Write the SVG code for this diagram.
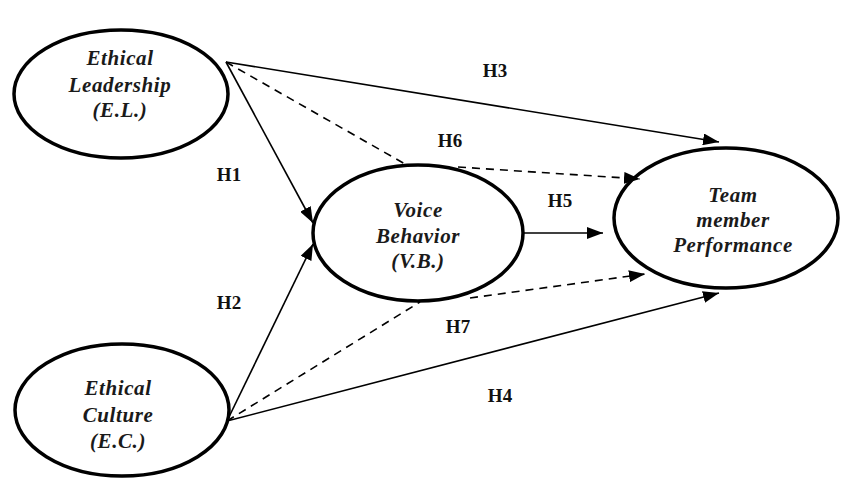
<svg xmlns="http://www.w3.org/2000/svg" width="842" height="479" viewBox="0 0 842 479">
  <defs>
    <marker id="arrow" viewBox="0 0 16 12" refX="16" refY="6" markerWidth="16" markerHeight="12" markerUnits="userSpaceOnUse" orient="auto">
      <path d="M0,0 L16,6 L0,12 Z" fill="#000"/>
    </marker>
    <style>
      .node ellipse { fill: #fff; stroke: #000; stroke-width: 3.5; }
      .node text { font-family: "Liberation Serif", "Times New Roman", serif; font-style: italic; font-weight: bold; font-size: 21px; letter-spacing: 0.6px; fill: #1a1a1a; text-anchor: middle; }
      .edge { fill: none; stroke: #000; stroke-width: 1.6; }
      .dash { stroke-dasharray: 8 6; }
      .lbl { font-family: "Liberation Serif", "Times New Roman", serif; font-weight: bold; font-size: 19px; fill: #111; text-anchor: middle; }
    </style>
  </defs>

  <g id="ethical-leadership" class="node">
    <ellipse cx="121" cy="94" rx="107" ry="64"/>
    <text x="120" y="65">Ethical</text>
    <text x="120" y="92">Leadership</text>
    <text x="120" y="117">(E.L.)</text>
  </g>

  <g id="voice-behavior" class="node">
    <ellipse cx="418" cy="233" rx="105" ry="68"/>
    <text x="418" y="217">Voice</text>
    <text x="418" y="243">Behavior</text>
    <text x="418" y="268">(V.B.)</text>
  </g>

  <g id="team-member-performance" class="node">
    <ellipse cx="726" cy="218" rx="112" ry="70"/>
    <text x="733" y="202">Team</text>
    <text x="733" y="227">member</text>
    <text x="733" y="252">Performance</text>
  </g>

  <g id="ethical-culture" class="node">
    <ellipse cx="122" cy="410" rx="107" ry="66"/>
    <text x="118" y="395">Ethical</text>
    <text x="118" y="422">Culture</text>
    <text x="118" y="448">(E.C.)</text>
  </g>

  <!-- paths between constructs -->
  <g id="connectors">
    <line class="edge" x1="226" y1="62" x2="719" y2="142" marker-end="url(#arrow)"/>
    <line class="edge dash" x1="226" y1="62" x2="405" y2="164"/>
    <line class="edge dash" x1="458" y1="167" x2="640" y2="179" marker-end="url(#arrow)"/>
    <line class="edge" x1="226" y1="62" x2="313" y2="223" marker-end="url(#arrow)"/>
    <line class="edge" x1="227" y1="421" x2="313" y2="244" marker-end="url(#arrow)"/>
    <line class="edge dash" x1="227" y1="421" x2="420" y2="302"/>
    <line class="edge dash" x1="470" y1="298" x2="645" y2="274" marker-end="url(#arrow)"/>
    <line class="edge" x1="227" y1="421" x2="719" y2="293" marker-end="url(#arrow)"/>
    <line class="edge" x1="524" y1="233" x2="603" y2="233" marker-end="url(#arrow)"/>
  </g>

  <g id="labels">
    <text class="lbl" x="495" y="77">H3</text>
    <text class="lbl" x="450" y="147">H6</text>
    <text class="lbl" x="229" y="181">H1</text>
    <text class="lbl" x="560" y="207">H5</text>
    <text class="lbl" x="229" y="309">H2</text>
    <text class="lbl" x="458" y="333">H7</text>
    <text class="lbl" x="500" y="402">H4</text>
  </g>
</svg>
